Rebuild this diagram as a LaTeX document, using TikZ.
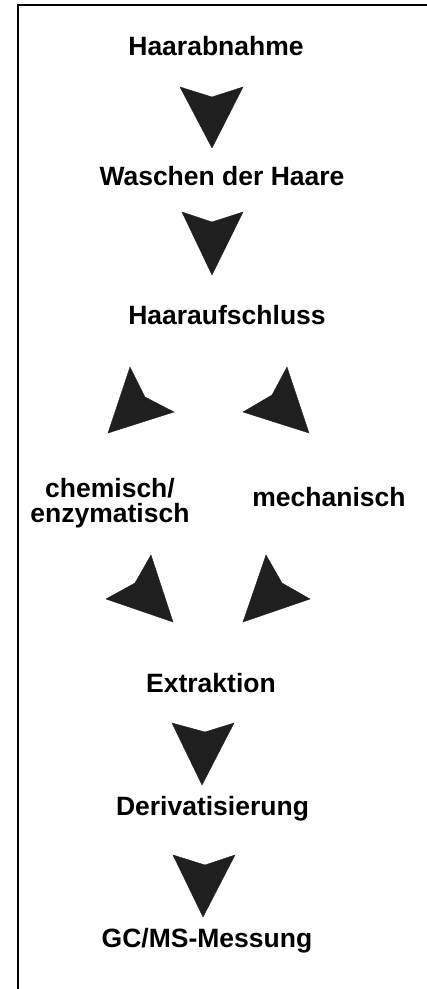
\documentclass[tikz,border=0pt]{standalone}
\usepackage{fontspec}
\setmainfont{Liberation Sans}
\begin{document}
\begin{tikzpicture}[x=1pt,y=-1pt,
  lbl/.style={anchor=base,inner sep=0pt,font=\bfseries\fontsize{26.5}{25}\selectfont,align=center},
  dart/.style={fill=black!88,draw=black!88,line width=0.4pt,line join=miter}]
\useasboundingbox (0,0) rectangle (427,989);
\draw[line width=2pt] (18,989) -- (18,5) -- (427,5);

\node[lbl] (n1) at (216,55) {Haarabnahme};
\node[lbl] (n2) at (222,185) {Waschen der Haare};
\node[lbl] (n3) at (227,324) {Haaraufschluss};
\node[lbl] (n4) at (110,522) {chemisch/\\enzymatisch};
\node[lbl] (n5) at (329,506) {mechanisch};
\node[lbl] (n6) at (211,692) {Extraktion};
\node[lbl] (n7) at (212.5,815) {Derivatisierung};
\node[lbl] (n8) at (207,947) {GC/MS-Messung};

% darts: wing, notch, wing, tip
\fill[dart] (180,87) -- (212,97) -- (243,87) -- (212,148) -- cycle;
\fill[dart] (182,212) -- (212,222) -- (243,212) -- (212,275) -- cycle;
\fill[dart] (130,367) -- (145,397) -- (174,412) -- (108,433) -- cycle;
\fill[dart] (287,367) -- (272,395) -- (243,412) -- (309,433) -- cycle;
\fill[dart] (106,599) -- (135,583) -- (151,555) -- (173,622) -- cycle;
\fill[dart] (266,555) -- (282,583) -- (310,599) -- (243,622) -- cycle;
\fill[dart] (172,723) -- (205,732) -- (234,723) -- (202,785) -- cycle;
\fill[dart] (173,855) -- (205,865) -- (235,855) -- (203,917) -- cycle;
\end{tikzpicture}
\end{document}
